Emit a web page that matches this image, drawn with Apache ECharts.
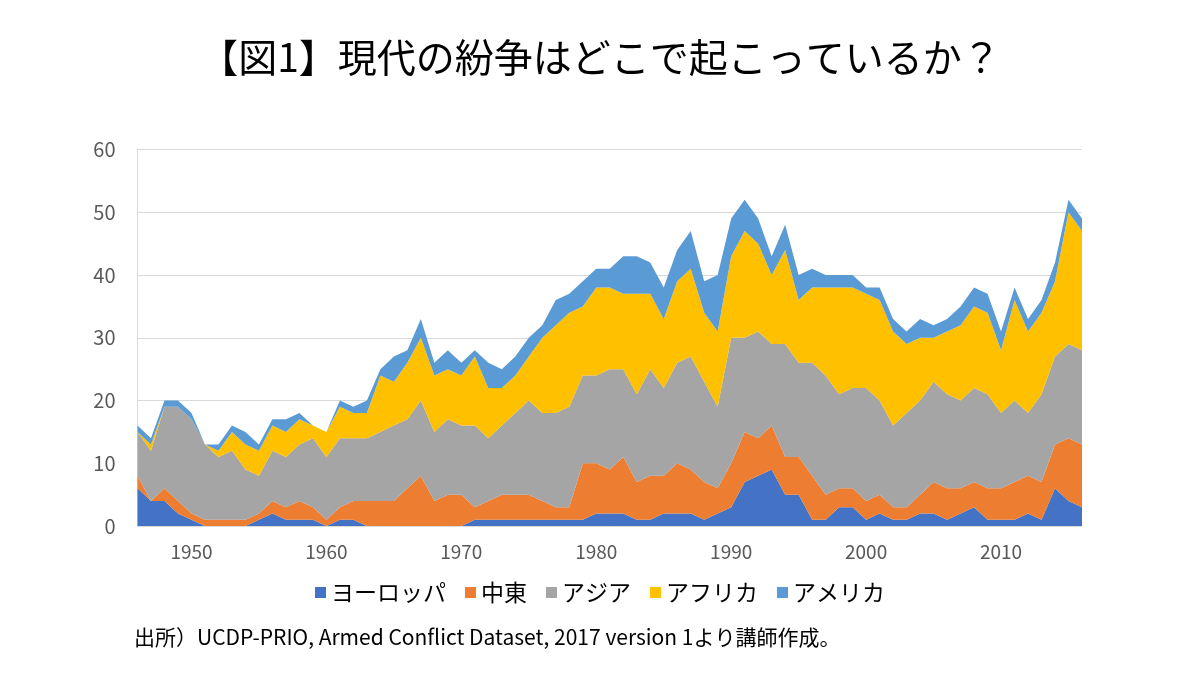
<!DOCTYPE html>
<html>
<head>
<meta charset="utf-8">
<title>現代の紛争はどこで起こっているか？</title>
<script src="https://cdn.jsdelivr.net/npm/echarts@6/dist/echarts.min.js"></script>
<style>
    html, body { margin: 0; padding: 0; background: #fff; }
    #chart { width: 1200px; height: 675px; }
</style>
</head>
<body>
<div id="chart"></div>
<script>
// 年ごとの紛争数
var years = [];
for (var y = 1946; y <= 2016; y++) years.push(String(y));

var europe = [6,4,4,2,1,0,0,0,0,1, 2,1,1,1,0,1,1,0,0,0, 0,0,0,0,0,1,1,1,1,1,
              1,1,1,1,2,2,2,1,1,2, 2,2,1,2,3,7,8,9,5,5, 1,1,3,3,1,2,1,1,2,2,
              1,2,3,1,1,1,2,1,6,4, 3];
var middleEast = [2,0,2,2,1,1,1,1,1,1, 2,2,3,2,1,2,3,4,4,4, 6,8,4,5,5,2,3,4,4,4,
                  3,2,2,9,8,7,9,6,7,6, 8,7,6,4,7,8,6,7,6,6, 7,4,3,3,3,3,2,2,3,5,
                  5,4,4,5,5,6,6,6,7,10, 10];
var asia = [7,8,13,15,15,12,10,11,8,6, 8,8,9,11,10,11,10,10,11,12, 11,12,11,12,11,13,10,11,13,15,
            14,15,16,14,14,16,14,14,17,14, 16,18,16,13,20,15,17,13,18,15, 18,19,15,16,18,15,13,15,15,16,
            15,14,15,15,12,13,10,14,14,15, 15];
var africa = [0,1,0,0,0,0,1,3,4,4, 4,4,4,2,4,5,4,4,9,7, 9,10,9,8,8,11,8,6,6,7,
              12,14,15,11,14,13,12,16,12,11, 13,14,11,12,13,17,14,11,15,10, 12,14,17,16,15,16,15,11,10,7,
              10,12,13,13,10,16,13,13,12,21, 19];
var america = [1,1,1,1,1,0,1,1,2,1, 1,2,1,0,0,1,1,2,1,4, 2,3,2,3,2,1,4,3,3,3,
               2,4,3,4,3,3,6,6,5,5, 5,6,5,9,6,5,4,3,4,4, 3,2,2,2,1,2,2,2,3,2,
               2,3,3,3,3,2,2,2,3,2, 2];

var seriesNames = ['ヨーロッパ', '中東', 'アジア', 'アフリカ', 'アメリカ'];
var seriesData = [europe, middleEast, asia, africa, america];
var colors = ['#4472C4', '#ED7D31', '#A5A5A5', '#FFC000', '#5B9BD5'];

var FONT = '"Noto Sans CJK JP", "Noto Sans", sans-serif';

var chart = echarts.init(document.getElementById('chart'), null, { renderer: 'canvas' });

var series = seriesNames.map(function (name, i) {
    return {
        name: name,
        type: 'line',
        stack: 'total',
        data: seriesData[i],
        symbol: 'none',
        lineStyle: { width: 0 },
        areaStyle: { color: colors[i], opacity: 1 },
        itemStyle: { color: colors[i] },
        emphasis: { disabled: true }
    };
});

chart.setOption({
    animation: false,
    color: colors,
    title: {
        text: '【図1】現代の紛争はどこで起こっているか？',
        left: 'center',
        top: 33,
        textStyle: { fontFamily: FONT, fontSize: 39, fontWeight: 'normal', color: '#000' }
    },
    grid: { left: 137.5, right: 118, top: 149.5, bottom: 149 },
    legend: {
        data: seriesNames,
        left: 'center',
        top: 576,
        icon: 'rect',
        itemWidth: 11,
        itemHeight: 11,
        itemGap: 19,
        textStyle: { fontFamily: FONT, fontSize: 23, color: '#000' }
    },
    xAxis: {
        type: 'category',
        data: years,
        boundaryGap: false,
        axisLine: { show: true, lineStyle: { color: '#d9d9d9' } },
        axisTick: { show: false },
        axisLabel: {
            fontFamily: FONT,
            fontSize: 19,
            color: '#595959',
            margin: 16,
            interval: function (idx, val) { return Number(val) % 10 === 0; }
        },
        splitLine: { show: false }
    },
    yAxis: {
        type: 'value',
        min: 0,
        max: 60,
        interval: 10,
        axisLine: { show: true, lineStyle: { color: '#d9d9d9' } },
        axisTick: { show: false },
        axisLabel: { fontFamily: FONT, fontSize: 20, color: '#595959', margin: 22 },
        splitLine: { lineStyle: { color: '#d9d9d9', width: 1 } }
    },
    graphic: [{
        type: 'text',
        left: 134,
        top: 627,
        style: {
            text: '出所）UCDP-PRIO, Armed Conflict Dataset, 2017 version 1より講師作成。',
            font: '21px ' + FONT,
            fill: '#000'
        }
    }],
    series: series
});
</script>
</body>
</html>
